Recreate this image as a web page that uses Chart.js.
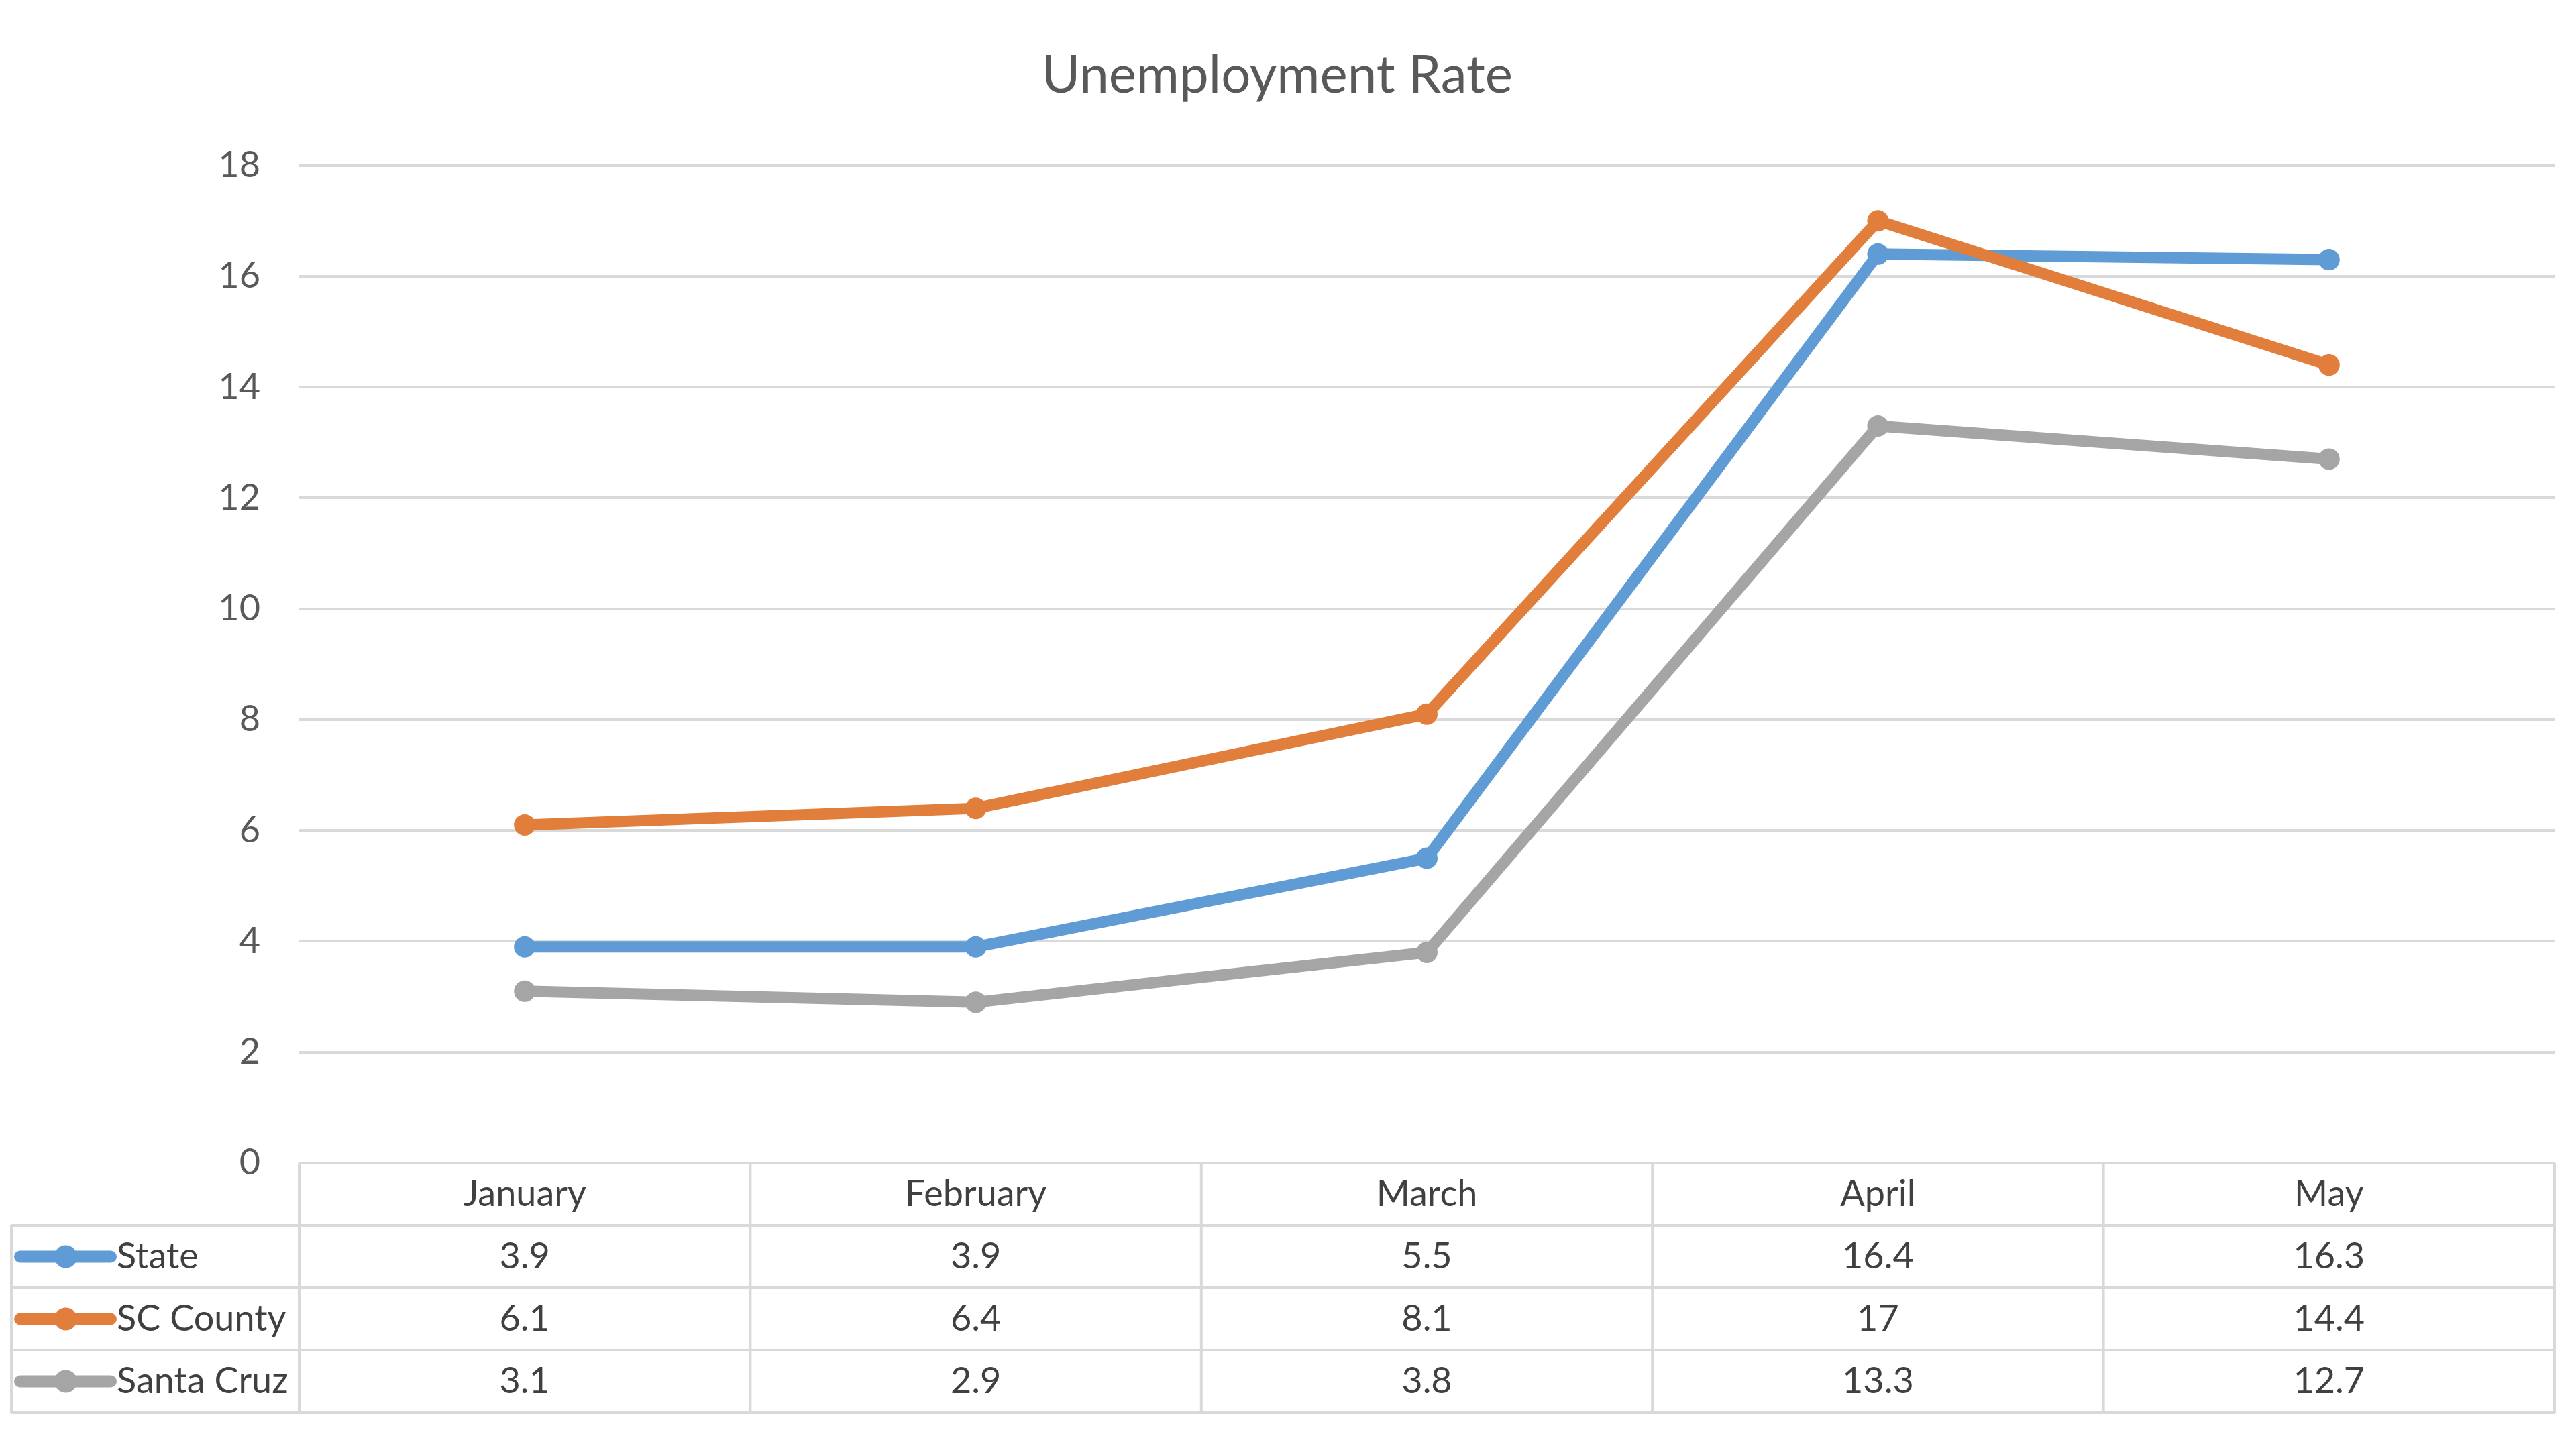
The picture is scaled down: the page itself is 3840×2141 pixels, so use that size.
<!DOCTYPE html>
<html>
<head>
<meta charset="utf-8">
<script src="https://cdn.jsdelivr.net/npm/chart.js@4"></script>
<style>
  html, body { margin: 0; padding: 0; background: #fff; }
  #wrap { width: 3840px; height: 2141px; }
</style>
</head>
<body>
<div id="wrap"><canvas id="lineChart" width="3840" height="2141"></canvas></div>
<script>
const months = ["January", "February", "March", "April", "May"];
const seriesNames = ["State", "SC County", "Santa Cruz"];
const stateValues = [3.9, 3.9, 5.5, 16.4, 16.3];
const countyValues = [6.1, 6.4, 8.1, 17, 14.4];
const santaCruzValues = [3.1, 2.9, 3.8, 13.3, 12.7];
const yTicks = [0, 2, 4, 6, 8, 10, 12, 14, 16, 18];
const colors = ["#5F9BD5", "#E27E3B", "#A5A5A5"];

const fontFamily = "Lato, 'Open Sans', sans-serif";
const textColor = "#595959";
const gridColor = "#D9D9D9";

const allValues = [stateValues, countyValues, santaCruzValues];

// draws the Excel style data table under the plot area
const dataTable = {
  id: "dataTable",
  afterDraw(chart) {
    const ctx = chart.ctx;
    const area = chart.chartArea;
    const x = chart.scales.x;
    const colW = (area.right - area.left) / months.length;
    const top = area.bottom;
    const rowH = 93;
    const legendLeft = 17;
    const bottom = top + rowH * 4;

    ctx.save();
    ctx.strokeStyle = gridColor;
    ctx.lineWidth = 4;
    ctx.beginPath();
    ctx.moveTo(area.left, top);
    ctx.lineTo(area.right, top);
    for (let r = 1; r <= 4; r++) {
      ctx.moveTo(legendLeft, top + rowH * r);
      ctx.lineTo(area.right, top + rowH * r);
    }
    for (let c = 0; c <= months.length; c++) {
      ctx.moveTo(area.left + colW * c, top);
      ctx.lineTo(area.left + colW * c, bottom);
    }
    ctx.moveTo(legendLeft, top + rowH);
    ctx.lineTo(legendLeft, bottom);
    ctx.stroke();

    ctx.font = "54px " + fontFamily;
    ctx.fillStyle = "#404040";
    ctx.textAlign = "center";
    ctx.textBaseline = "middle";
    months.forEach((m, i) => {
      ctx.fillText(m, x.getPixelForValue(i), top + rowH / 2);
    });

    allValues.forEach((vals, s) => {
      const cy = top + rowH * (s + 1) + rowH / 2;
      vals.forEach((v, i) => {
        ctx.fillText(String(v), x.getPixelForValue(i), cy);
      });
      // legend key
      ctx.strokeStyle = colors[s];
      ctx.lineWidth = 18;
      ctx.lineCap = "round";
      ctx.beginPath();
      ctx.moveTo(30, cy);
      ctx.lineTo(165, cy);
      ctx.stroke();
      ctx.fillStyle = colors[s];
      ctx.beginPath();
      ctx.arc(98, cy, 17, 0, Math.PI * 2);
      ctx.fill();
      ctx.fillStyle = "#404040";
      ctx.textAlign = "left";
      ctx.fillText(seriesNames[s], 174, cy);
      ctx.textAlign = "center";
    });
    ctx.restore();
  }
};

const makeSet = (label, data, color, order) => ({
  label: label,
  data: data,
  borderColor: color,
  backgroundColor: color,
  borderWidth: 17,
  pointRadius: 16,
  pointBorderWidth: 0,
  pointBackgroundColor: color,
  tension: 0,
  order: order
});

const ctx = document.getElementById("lineChart");
const chart = new Chart(ctx, {
  type: "line",
  data: {
    labels: months,
    datasets: [
      makeSet(seriesNames[0], stateValues, colors[0], 3),
      makeSet(seriesNames[1], countyValues, colors[1], 2),
      makeSet(seriesNames[2], santaCruzValues, colors[2], 1)
    ]
  },
  options: {
    responsive: false,
    animation: false,
    devicePixelRatio: 1,
    layout: { padding: { left: 0, right: 32, top: 0, bottom: 407 } },
    plugins: {
      legend: { display: false },
      tooltip: { enabled: false },
      title: {
        display: true,
        text: "Unemployment Rate",
        color: textColor,
        font: { family: fontFamily, size: 78, weight: "normal" },
        padding: { top: 66, bottom: 87 }
      }
    },
    scales: {
      x: {
        display: false,
        offset: true
      },
      y: {
        min: 0,
        max: 18,
        afterBuildTicks: (scale) => {
          scale.ticks = yTicks.map(v => ({ value: v }));
        },
        afterFit: (scale) => { scale.width = 446; },
        border: { display: false },
        grid: { color: gridColor, lineWidth: 4, drawTicks: false },
        ticks: {
          color: textColor,
          padding: 58,
          font: { family: fontFamily, size: 54 }
        }
      }
    }
  },
  plugins: [dataTable]
});
</script>
</body>
</html>
